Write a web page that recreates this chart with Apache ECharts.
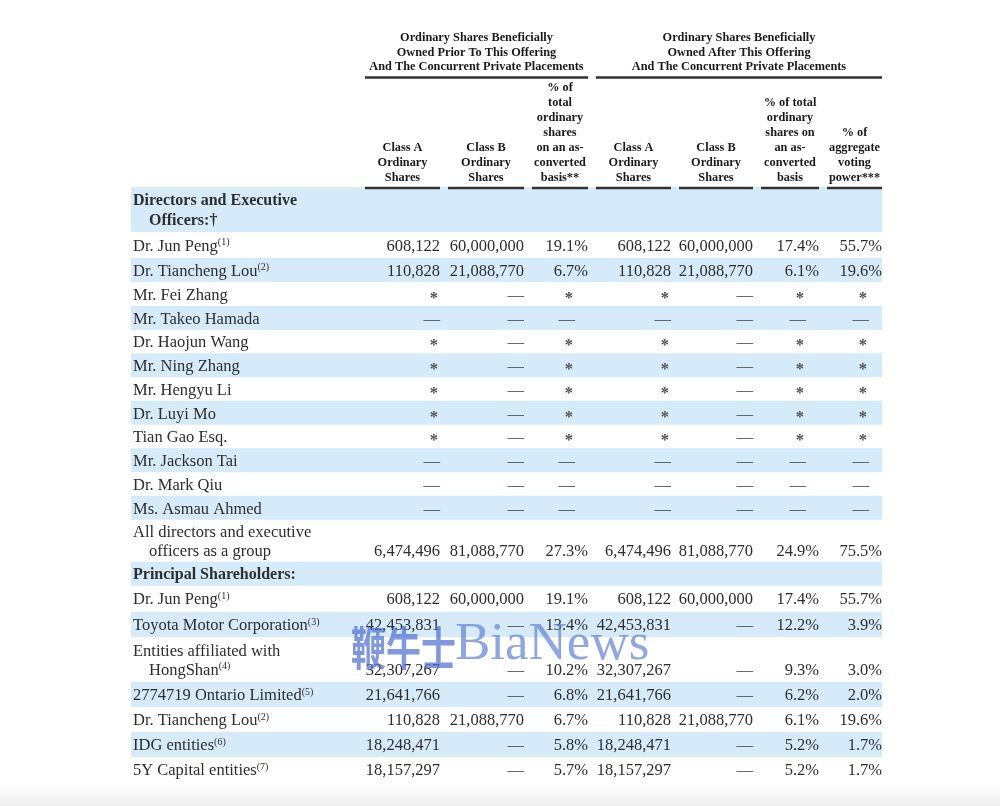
<!DOCTYPE html>
<html><head><meta charset="utf-8">
<script src="https://cdn.jsdelivr.net/npm/echarts@6/dist/echarts.min.js"></script>
<style>html,body{margin:0;padding:0;background:#fff}#chart{width:1000px;height:806px}</style>
</head><body><div id="chart"></div>
<script>
// ---------------- DATA ----------------
const groupHeaders = [
  'Ordinary Shares Beneficially\nOwned Prior To This Offering\nAnd The Concurrent Private Placements',
  'Ordinary Shares Beneficially\nOwned After This Offering\nAnd The Concurrent Private Placements'
];
const columnHeaders = [
  'Class A\nOrdinary\nShares',
  'Class B\nOrdinary\nShares',
  '% of\ntotal\nordinary\nshares\non an as-\nconverted\nbasis**',
  'Class A\nOrdinary\nShares',
  'Class B\nOrdinary\nShares',
  '% of total\nordinary\nshares on\nan as-\nconverted\nbasis',
  '% of\naggregate\nvoting\npower***'
];
const rowLabels = [
  'Directors and Executive\nOfficers:\u2020',
  'Dr. Jun Peng',
  'Dr. Tiancheng Lou',
  'Mr. Fei Zhang',
  'Mr. Takeo Hamada',
  'Dr. Haojun Wang',
  'Mr. Ning Zhang',
  'Mr. Hengyu Li',
  'Dr. Luyi Mo',
  'Tian Gao Esq.',
  'Mr. Jackson Tai',
  'Dr. Mark Qiu',
  'Ms. Asmau Ahmed',
  'All directors and executive\nofficers as a group',
  'Principal Shareholders:',
  'Dr. Jun Peng',
  'Toyota Motor Corporation',
  'Entities affiliated with\nHongShan',
  '2774719 Ontario Limited',
  'Dr. Tiancheng Lou',
  'IDG entities',
  '5Y Capital entities'
];
const rowNotes = [null, 1, 2, null, null, null, null, null, null, null, null, null, null, null, null, 1, 3, 4, 5, 2, 6, 7];
const sectionRows = [0, 14];
const D = '\u2014', S = '*';
const classAPrior = [null, 608122, 110828, S, D, S, S, S, S, S, D, D, D, 6474496, null, 608122, 42453831, 32307267, 21641766, 110828, 18248471, 18157297];
const classBPrior = [null, 60000000, 21088770, D, D, D, D, D, D, D, D, D, D, 81088770, null, 60000000, D, D, D, 21088770, D, D];
const pctPrior    = [null, 19.1, 6.7, S, D, S, S, S, S, S, D, D, D, 27.3, null, 19.1, 13.4, 10.2, 6.8, 6.7, 5.8, 5.7];
const classAAfter = [null, 608122, 110828, S, D, S, S, S, S, S, D, D, D, 6474496, null, 608122, 42453831, 32307267, 21641766, 110828, 18248471, 18157297];
const classBAfter = [null, 60000000, 21088770, D, D, D, D, D, D, D, D, D, D, 81088770, null, 60000000, D, D, D, 21088770, D, D];
const pctAfter    = [null, 17.4, 6.1, S, D, S, S, S, S, S, D, D, D, 24.9, null, 17.4, 12.2, 9.3, 6.2, 6.1, 5.2, 5.2];
const votingAfter = [null, 55.7, 19.6, S, D, S, S, S, S, S, D, D, D, 75.5, null, 55.7, 3.9, 3.0, 2.0, 19.6, 1.7, 1.7];

// ---------------- LAYOUT ----------------
const valueColumns = [classAPrior, classBPrior, pctPrior, classAAfter, classBAfter, pctAfter, votingAfter];
const isPctCol = [false, false, true, false, false, true, true];
const L = {
  labelX: 133, tableRight: 882,
  colLeft:  [365, 448, 532, 596, 679, 761, 827],
  colRight: [440, 524, 588, 671, 753, 819, 882],
  groupSpan: [[365, 588], [596, 882]],
  // relative row heights (layout only)
  rowHeight: [45, 26, 24, 24, 24, 23.5, 24, 23.5, 24, 23.5, 24, 23.5, 24, 42, 24, 26, 25.5, 45, 25, 25, 25, 25],
  lineGap: 19.5, indent: 16, textDy: 1.5,
  font: 'Liberation Serif', size: 16.5, color: '#2e2e2e', headColor: '#1a1a1a',
  band: '#d5ebf9'
};

// cumulative row extents
const rowStart = [], rowEnd = [];
let acc = 0;
rowLabels.forEach(function (lbl, i) {
  rowStart.push(acc);
  acc += L.rowHeight[i];
  rowEnd.push(acc);
});
const totalUnits = acc;

function fmt(v, pct) {
  if (v === null || v === undefined) return '';
  if (typeof v === 'string') return v;
  return pct ? v.toFixed(1) + '%' : v.toLocaleString('en-US');
}

const chart = echarts.init(document.getElementById('chart'), null, {renderer: 'canvas'});

function renderRow(params, api) {
  const i = api.value(0);
  const top = api.coord([0, api.value(1)])[1];
  const bot = api.coord([0, api.value(2)])[1];
  const xL = api.coord([L.labelX, 0])[0];
  const xR = api.coord([L.tableRight, 0])[0];
  const children = [];
  if (i % 2 === 0) {
    children.push({type: 'rect', shape: {x: xL - 2, y: top, width: xR - xL + 2, height: bot - top}, style: {fill: L.band}});
  }
  const bold = sectionRows.indexOf(i) >= 0;
  const lines = rowLabels[i].split('\n');
  const n = lines.length;
  const mid = (top + bot) / 2 + L.textDy;
  const rich = {
    n: {fontFamily: L.font, fontSize: bold ? 16 : L.size, fontWeight: bold ? 'bold' : 'normal', fill: L.color, lineHeight: 18},
    s: {fontFamily: L.font, fontSize: 10, fill: L.color, verticalAlign: 'top', lineHeight: 12}
  };
  lines.forEach(function (ln, k) {
    const y = mid + (k - (n - 1) / 2) * L.lineGap;
    let txt = '{n|' + ln + '}';
    if (k === n - 1 && rowNotes[i]) txt += '{s|(' + rowNotes[i] + ')}';
    children.push({type: 'text', x: xL + (k > 0 ? L.indent : 0), y: y,
      style: {text: txt, rich: rich, align: 'left', verticalAlign: 'middle'}});
  });
  const vy = mid + ((n - 1) / 2) * L.lineGap;
  valueColumns.forEach(function (arr, c) {
    const v = arr[i];
    if (v === null) return;
    const txt = fmt(v, isPctCol[c]);
    const sym = (v === D || v === S);
    const xr = api.coord([L.colRight[c], 0])[0] - (sym && isPctCol[c] ? 13 : 0) - (v === S ? 2 : 0);
    children.push({type: 'text', x: xr, y: vy + (v === S ? 3 : 0),
      style: {text: txt, fontFamily: L.font, fontSize: L.size, fontWeight: v === S ? 'bold' : 'normal',
        fill: sym ? '#505050' : L.color, align: 'right', verticalAlign: 'middle'}});
  });
  return {type: 'group', children: children};
}

function renderColHeader(params, api) {
  const c = api.value(0);
  const gridTop = api.coord([0, 0])[1];
  const x0 = api.coord([L.colLeft[c], 0])[0], x1 = api.coord([L.colRight[c], 0])[0];
  return {type: 'group', children: [
    {type: 'text', x: (x0 + x1) / 2, y: gridTop - 1.5,
      style: {text: columnHeaders[c], fontFamily: L.font, fontSize: 12.3, fontWeight: 'bold', lineHeight: 15,
        fill: L.headColor, align: 'center', verticalAlign: 'bottom'}},
    {type: 'line', shape: {x1: x0, y1: gridTop + 1, x2: x1, y2: gridTop + 1}, style: {stroke: '#333', lineWidth: 2.4}}
  ]};
}

function renderGroupHeader(params, api) {
  const g = api.value(0);
  const gridTop = api.coord([0, 0])[1];
  const x0 = api.coord([L.groupSpan[g][0], 0])[0], x1 = api.coord([L.groupSpan[g][1], 0])[0];
  return {type: 'group', children: [
    {type: 'text', x: (x0 + x1) / 2, y: gridTop - 134.5,
      style: {text: groupHeaders[g], fontFamily: L.font, fontSize: 12.3, fontWeight: 'bold', lineHeight: 14.5,
        fill: L.headColor, align: 'center', verticalAlign: 'middle'}},
    {type: 'line', shape: {x1: x0, y1: gridTop - 109.5, x2: x1, y2: gridTop - 109.5}, style: {stroke: '#333', lineWidth: 2.4}}
  ]};
}

const option = {
  backgroundColor: '#ffffff',
  animation: false,
  grid: {left: 0, right: 0, top: 187, bottom: 24},
  xAxis: {type: 'value', min: 0, max: 1000, show: false},
  yAxis: {type: 'value', min: 0, max: totalUnits, inverse: true, show: false},
  graphic: [
    {type: 'rect', left: 0, top: 783, shape: {width: 1000, height: 23},
      style: {fill: new echarts.graphic.LinearGradient(0, 0, 0, 1, [{offset: 0, color: '#ffffff'}, {offset: 1, color: '#efefef'}])}, z: 0},
    {type: 'text', left: 351, top: 625, z: 100, scaleX: 0.76,
      style: {text: '鞭牛士', fontFamily: 'Noto Sans CJK SC', fontWeight: 'bold', fontSize: 46, fill: 'rgba(78,112,212,0.72)'}},
    {type: 'text', left: 455, top: 619, z: 100,
      style: {text: 'BiaNews', fontFamily: 'Liberation Serif', fontSize: 53, fill: 'rgba(95,128,215,0.7)'}}
  ],
  series: [
    {type: 'custom', name: 'rows', clip: false, z: 2,
      data: rowLabels.map(function (_, i) { return [i, rowStart[i], rowEnd[i]]; }),
      encode: {x: 0, y: [1, 2]}, renderItem: renderRow},
    {type: 'custom', name: 'colHeaders', clip: false, z: 3,
      data: columnHeaders.map(function (_, c) { return [c]; }),
      renderItem: renderColHeader},
    {type: 'custom', name: 'groupHeaders', clip: false, z: 3,
      data: groupHeaders.map(function (_, g) { return [g]; }),
      renderItem: renderGroupHeader}
  ]
};
chart.setOption(option);
</script>
</body></html>
